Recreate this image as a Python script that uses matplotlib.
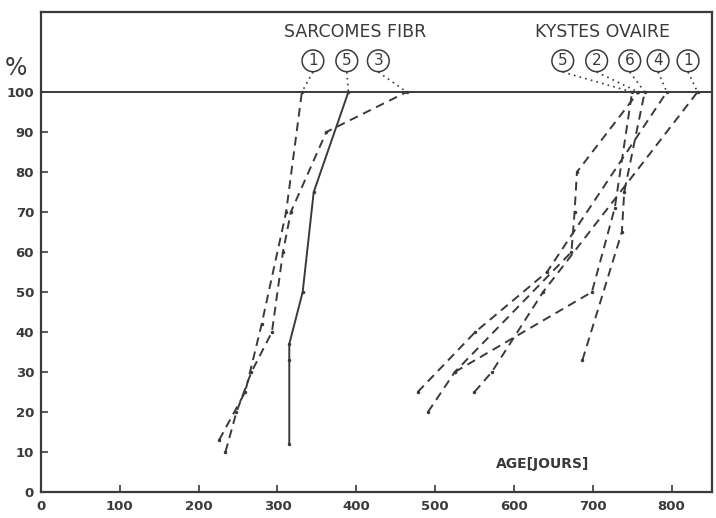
import numpy as np
import matplotlib
matplotlib.use("Agg")
import matplotlib.pyplot as plt

# data (age in days, cumulative %)
sarc_labels = ["1", "5", "3"]
sarc_1_x = [226, 259, 280, 311, 331]
sarc_1_y = [13, 25, 42, 70, 100]
sarc_5_x = [315, 315, 315, 332, 346, 390]
sarc_5_y = [12, 33, 37, 50, 75, 100]
sarc_3_x = [234, 248, 267, 293, 307, 317, 362, 464]
sarc_3_y = [10, 20, 30, 40, 60, 70, 90, 100]

kyst_labels = ["5", "2", "6", "4", "1"]
kyst_5_x = [525, 699, 728, 750]
kyst_5_y = [30, 50, 71, 100]
kyst_2_x = [491, 525, 673, 677, 680, 758]
kyst_2_y = [20, 30, 60, 70, 80, 100]
kyst_6_x = [687, 737, 740, 766]
kyst_6_y = [33, 65, 75, 100]
kyst_4_x = [478, 551, 642, 794]
kyst_4_y = [25, 40, 55, 100]
kyst_1_x = [550, 572, 637, 833]
kyst_1_y = [25, 30, 50, 100]

x_ticks = [0, 100, 200, 300, 400, 500, 600, 700, 800]
y_ticks = [0, 10, 20, 30, 40, 50, 60, 70, 80, 90, 100]

ink = "#3a3a3a"

fig = plt.figure(figsize=(7.16, 5.18), dpi=100)
ax = fig.add_axes([0.0573, 0.0502, 0.9367, 0.9266])
ax.set_xlim(0, 851)
ax.set_ylim(0, 120)

for s in ax.spines.values():
    s.set_color(ink)
    s.set_linewidth(1.6)

ax.set_xticks(x_ticks)
ax.set_yticks(y_ticks)
ax.tick_params(direction="in", length=5, width=1.2, color=ink, labelcolor=ink,
               labelsize=9.5)
for lab in ax.get_xticklabels() + ax.get_yticklabels():
    lab.set_fontweight("bold")
ax.tick_params(axis="x", pad=6)
ax.tick_params(axis="y", pad=5)

# 100 % line
ax.axhline(100, color=ink, lw=1.4)

dash = (0, (4.5, 3))
ax.plot(sarc_1_x, sarc_1_y, color=ink, lw=1.4, ls=dash, marker=".", ms=3)
ax.plot(sarc_3_x, sarc_3_y, color=ink, lw=1.4, ls=dash, marker=".", ms=3)
ax.plot(sarc_5_x, sarc_5_y, color=ink, lw=1.4, ls="-", marker=".", ms=3)

for xs, ys in [(kyst_5_x, kyst_5_y), (kyst_2_x, kyst_2_y), (kyst_6_x, kyst_6_y),
               (kyst_4_x, kyst_4_y), (kyst_1_x, kyst_1_y)]:
    ax.plot(xs, ys, color=ink, lw=1.4, ls=dash, marker=".", ms=3)

# group titles
ax.text(399, 115, "SARCOMES FIBR", ha="center", va="center",
        fontsize=12.5, color=ink)
ax.text(712, 115, "KYSTES OVAIRE", ha="center", va="center",
        fontsize=12.5, color=ink)

# circled numbers with dotted leaders
circ = dict(boxstyle="circle,pad=0.22", fc="white", ec=ink, lw=1.1)
sarc_circle_x = [345, 388, 428]
sarc_tops = [sarc_1_x[-1], sarc_5_x[-1], sarc_3_x[-1]]
for lab, cx, tx in zip(sarc_labels, sarc_circle_x, sarc_tops):
    ax.text(cx, 107.8, lab, ha="center", va="center", fontsize=11, color=ink, bbox=circ)
    ax.plot([cx, tx], [105, 100], color=ink, lw=1.2, ls=(0, (1, 2.5)))

kyst_circle_x = [662, 705, 747, 783, 821]
kyst_tops = [kyst_5_x[-1], kyst_2_x[-1], kyst_6_x[-1], kyst_4_x[-1], kyst_1_x[-1]]
for lab, cx, tx in zip(kyst_labels, kyst_circle_x, kyst_tops):
    ax.text(cx, 107.8, lab, ha="center", va="center", fontsize=11, color=ink, bbox=circ)
    ax.plot([cx, tx], [105, 100], color=ink, lw=1.2, ls=(0, (1, 2.5)))

# "%" over the y axis
fig.text(16 / 716, 1 - 68 / 518, "%", ha="center", va="center", fontsize=17, color=ink)

ax.text(637, 7, "AGE[JOURS]", ha="center", va="center", fontsize=10,
        fontweight="bold", color=ink)

fig.savefig("out.png", dpi=100, facecolor="white")
